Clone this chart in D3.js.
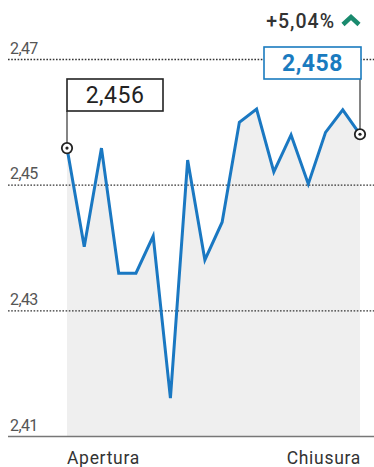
<!DOCTYPE html>
<html><head><meta charset="utf-8">
<script src="https://cdn.jsdelivr.net/npm/d3@7"></script>
<style>
html,body{margin:0;padding:0;background:#fff;}
svg{display:block;font-family:Roboto,"Liberation Sans",sans-serif;}
</style></head>
<body><svg id="c" width="374" height="467"></svg>
<script>
const values = [2.4559, 2.4402, 2.4559, 2.4360, 2.4360, 2.4419, 2.4161, 2.4540, 2.4381, 2.4441,
                2.4600, 2.4621, 2.4521, 2.4580, 2.4502, 2.4584, 2.4620, 2.4581];
const yTicks = [2.41, 2.43, 2.45, 2.47];
const xLabels = ["Apertura", "Chiusura"];
const openLabel = "2,456";
const closeLabel = "2,458";
const changeLabel = "+5,04%";

const svg = d3.select("#c");
const loc = d3.formatLocale({decimal: ",", thousands: ".", grouping: [3], currency: ["", "€"]});
const fmt = loc.format(".2f");

const x = d3.scaleLinear().domain([0, values.length - 1]).range([67, 360]);
const y = d3.scaleLinear().domain([2.41, 2.47]).range([436.5, 59.5]);

// gray area
const area = d3.area().x((d, i) => x(i)).y0(y(2.41)).y1(d => y(d));
svg.append("path").datum(values).attr("d", area).attr("fill", "#efefef");

// gridlines + labels
const g = svg.append("g");
yTicks.forEach(t => {
  const base = t === 2.41;
  g.append("line").attr("x1", 8).attr("x2", 374).attr("y1", y(t)).attr("y2", y(t))
    .attr("stroke", base ? "#777" : "#333")
    .attr("stroke-width", base ? 1.5 : 1.3)
    .attr("stroke-dasharray", base ? null : "1.6,1.6");
  g.append("text").attr("x", 10).attr("y", y(t) - 6).text(fmt(t))
    .attr("font-size", 16).attr("fill", "#555").attr("letter-spacing", "-0.6");
});

// line
const line = d3.line().x((d, i) => x(i)).y(d => y(d));
svg.append("path").datum(values).attr("d", line).attr("fill", "none")
  .attr("stroke", "#1a78c2").attr("stroke-width", 3).attr("stroke-linejoin", "miter");

// x labels
svg.append("text").attr("x", 67).attr("y", 464)
  .attr("font-size", 17.5).attr("letter-spacing", "0.7").attr("fill", "#333").text(xLabels[0]);
svg.append("text").attr("x", 361).attr("y", 464).attr("text-anchor", "end")
  .attr("font-size", 17.5).attr("letter-spacing", "0.7").attr("fill", "#333").text(xLabels[1]);

// annotations
function callout(i, box, text, color, bold) {
  const px = x(i), py = y(values[i]);
  svg.append("line").attr("x1", px).attr("x2", px).attr("y1", box.y + box.h).attr("y2", py)
    .attr("stroke", "#333").attr("stroke-width", 1.2);
  svg.append("rect").attr("x", box.x).attr("y", box.y).attr("width", box.w).attr("height", box.h)
    .attr("fill", "#fff").attr("stroke", color).attr("stroke-width", 1.6);
  svg.append("text").attr("x", box.x + box.w / 2).attr("y", box.y + box.h / 2 + 8)
    .attr("text-anchor", "middle").attr("font-size", 23).attr("font-weight", bold ? 700 : 400)
    .attr("letter-spacing", "0.5").attr("fill", color).text(text);
  svg.append("circle").attr("cx", px).attr("cy", py).attr("r", 5.2)
    .attr("fill", "#fff").attr("stroke", "#222").attr("stroke-width", 1.8);
  svg.append("circle").attr("cx", px).attr("cy", py).attr("r", 1.6).attr("fill", "#222");
}
callout(0, {x: 67, y: 79, w: 96, h: 32}, openLabel, "#222", false);
callout(values.length - 1, {x: 264, y: 47, w: 97, h: 32}, closeLabel, "#1a7bbf", true);

// change label
svg.append("text").attr("x", 335).attr("y", 28).attr("text-anchor", "end")
  .attr("font-size", 19.5).attr("font-weight", 500).attr("letter-spacing", "1")
  .attr("fill", "#333").text(changeLabel);
svg.append("path").attr("d", "M343,24.5 L351,17 L359,24.5").attr("fill", "none")
  .attr("stroke", "#1a8a6e").attr("stroke-width", 4.5);
</script></body></html>
